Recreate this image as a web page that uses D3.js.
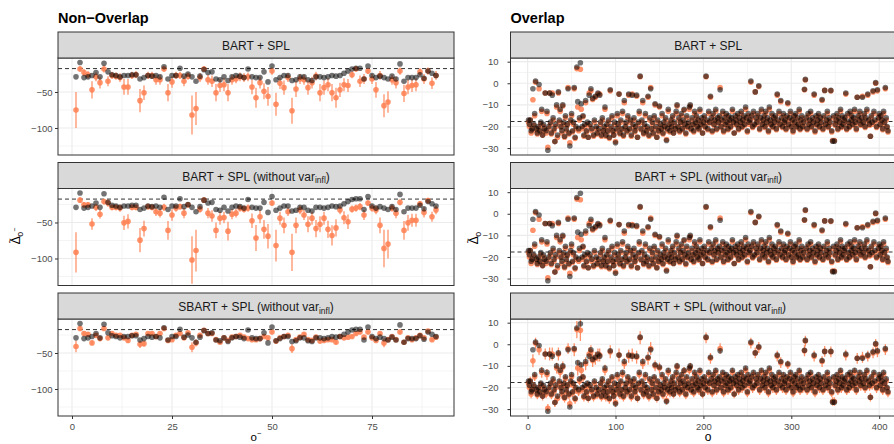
<!DOCTYPE html>
<html>
<head>
<meta charset="utf-8">
<script src="https://cdn.jsdelivr.net/npm/d3@7"></script>
<style>
  body { margin: 0; background: #fff; }
  svg text { font-family: "Liberation Sans", Arial, Helvetica, sans-serif; }
</style>
</head>
<body>
<div id="chart"></div>
<script>
//All the data
var trueNonOverlap = -17.5;
var trueOverlap = -17.7;

// Non-Overlap, o = 1..91 : reference estimate (grey), same in every panel
var nonGrey = [-29,-9,-30,-29,-27,-23,-29,-10,-22,-26,
  -27,-29,-27,-27,-26,-26,-32,-30,-27,-28,
  -27,-29,-15,-32,-27,-27,-17,-28,-25,-29,
  -35,-28,-19,-23,-22,-32,-33,-29,-34,-29,
  -27,-28,-30,-18,-29,-30,-30,-22,-36,-14,
  -33,-30,-27,-27,-34,-33,-29,-29,-33,-34,
  -29,-29,-30,-29,-27,-28,-27,-24,-21,-18,
  -17,-17,-32,-14,-27,-30,-28,-30,-32,-28,
  -32,-11,-35,-30,-30,-30,-26,-31,-21,-24,-27];

// BART + SPL
var nonBart = [-75,-18,-23,-26,-47,-29,-37,-18,-35,-27,
  -28,-30,-43,-43,-27,-26,-62,-51,-27,-27,
  -33,-33,-18,-51,-36,-27,-27,-35,-28,-82,
  -73,-30,-18,-33,-35,-51,-41,-40,-51,-33,
  -32,-29,-30,-29,-43,-58,-37,-49,-56,-21,
  -67,-38,-44,-30,-76,-46,-32,-33,-44,-37,
  -28,-51,-44,-40,-51,-58,-47,-40,-41,-26,
  -18,-35,-32,-21,-32,-47,-27,-69,-64,-33,
  -37,-21,-52,-43,-41,-40,-22,-32,-21,-38,-27];
var nonBartErr = [25,4,5,5,12,6,8,5,7,5,
  5,6,11,11,5,5,16,10,5,5,
  7,7,4,12,8,5,5,7,5,27,
  23,6,4,7,8,12,9,9,12,7,
  6,6,6,6,10,14,8,11,13,5,
  16,8,10,6,18,11,7,7,10,8,
  6,12,10,9,12,14,10,9,9,5,
  4,8,7,4,7,11,6,16,15,7,
  8,5,12,10,9,9,5,7,5,8,6];

// BART + SPL (without var_infl)
var nonBartNoInfl = [-91.5,-19,-25.5,-25.5,-52,-29,-38.5,-21,-23,-29,
  -29,-30,-50.5,-48.5,-29,-29,-74.5,-58.5,-28,-29,
  -35,-37,-29,-61,-39.5,-30,-28,-37,-25.5,-102,
  -89,-31.5,-19,-37,-41,-61,-44,-43,-62,-38.5,
  -37,-30,-31.5,-30,-47.5,-71.5,-42,-59.5,-69,-23,
  -82,-44,-54,-35,-91.5,-54,-32.5,-39.5,-52.5,-44,
  -58.5,-52.5,-44,-59.5,-68,-57.5,-32.5,-43.5,-49,-31.5,
  -30,-28,-39.5,-23,-30,-32.5,-54,-86,-80,-30,
  -37,-22,-61,-50.5,-47,-47,-24,-36,-19.5,-42,-32.5];
var nonBartNoInflErr = [28,4,4,4,8,5,6,4,5,4,
  4,5,10,10,4,4,17,11,4,4,
  6,6,5,13,8,5,4,7,4,33,
  29,5,4,7,8,11,9,8,13,7,
  6,5,5,5,10,18,9,13,17,4,
  22,9,11,6,26,11,6,7,11,9,
  12,11,9,12,14,12,6,9,10,5,
  5,5,7,4,5,6,11,26,20,5,
  7,4,13,11,9,9,4,7,4,7,6];

// SBART + SPL (without var_infl)
var nonSbart = [-41,-16,-23,-24,-36,-25.5,-30,-16,-29,-23,
  -25.5,-25.5,-29,-32.5,-25.5,-24,-38,-37,-23,-23,
  -27,-23,-16,-32.5,-31.5,-25.5,-23,-29,-22,-42,
  -36,-25.5,-18.5,-23,-23,-31.5,-35,-29,-32.5,-28,
  -27,-25.5,-28,-30,-31.5,-31.5,-30,-27,-29,-21,
  -33.5,-29,-27,-25.5,-44,-31.5,-28,-24,-31.5,-32.5,
  -28,-33.5,-32.5,-31.5,-31.5,-35,-27,-29,-28,-27,
  -23,-21,-28,-21,-29,-32.5,-23,-36,-31.5,-27,
  -31.5,-21,-35,-29,-31.5,-29,-25.5,-29,-19.5,-31.5,-28];
var nonSbartErr = [8,3,3,3,3,3,3,3,2,2,
  2,2,2,3,2,2,5,4,2,2,
  2,2,2,2,2,2,2,2,2,7,
  5,2,2,2,2,2,3,2,2,2,
  2,2,2,2,2,2,2,2,2,2,
  4,2,2,2,6,2,2,2,2,2,
  2,2,2,2,2,3,2,2,2,2,
  2,2,2,2,2,2,2,6,3,2,
  2,2,3,2,2,2,2,2,2,2,2];

// Overlap, o = 1..410 : reference estimate (grey)
var overGrey = [-17,-19,-17,-22,-21,-2.5,-19,-14,1,-21,
  -23,-20,-0.6,-22,-18,-12,-24,-19,-21,-4.5,
  -22,-13,-31,-20,-4.5,-18,-23,-5.5,-16,-21,
  -27,-19,-10,-24,-4,-17,-12,-20,-22,-10,
  -18,-24.5,-15,-21,-19,-2.5,-23,-29,-17,-14,
  -22,-18,-2,-25,-20,7.5,-8.5,-21,-16,9.5,
  -9.5,-20,-15,-24,-19,-8,-22,-18,-25,-5.5,
  -19,-2.5,-21,-7,-24,-17,-6,-20,-23,-4.5,
  -21,-5.5,-18,-24,-16,-22,-20,-11,-24,-19,
  -22,-17,-25,-3,-20,-15,-22,-24,-18,-27.5,
  -21,-14,-19,-5,-23,-17,-21,-13,-24,-8,
  -20,-18,-22,-15,-5,-21,-17,-24,-5.5,-19,
  -16,-22,-20,-5.5,-25,-18,-13,3.3,-21,-17,
  -8,-23,-19,-14,-22,-20,-6,-24,-16,-2.5,
  -21,-18,-23,-15,-9.5,-20,-25,-17,-22,-10.5,
  -19,-21,-14,-23,-18,-20,-16,-26.5,-21,-12,
  -19,-22,-17,-20,-15,-23,-18,-21,-13,-10,
  -20,-16,-22,-18,-14,-21,-17,-12,-19,-23,
  -15,-20,-18,-11,-10,-21,-16,-19,-22,-13,
  -18,-15,-20,-17,-21,-12,-19,-16,-23,-18,
  -15,-20,3.3,-17,-21,-13,-18,-6,-16,-22,
  -14,-19,-17,-12,-21,-16,-18,-15,-3,-20,
  -17,-13,-22,-16,-19,-14,-18,-21,-15,-17,
  -20,-16,-12,-18,-23,-15,-17,-19,-14,-21,
  -16,-18,-13,-20,-17,-15,-19,-11,-16,-22,
  -14,-18,-17,1,-15,-20,-13,-19,-4,-16,
  -18,-14,-1.2,-21,-16,-12,-19,-17,-15,-20,
  -13,-18,-16,-22,-11,-17,-19,-14,-20,-16,
  -18,-15,-21,-5,-17,-13,-19,-8,-16,-20,
  -14,-18,-17,-21,-15,-9,-19,-16,-13,-20,
  -17,-22,-15,-18,-14,-20,-16,-19,-12,-21,
  -17,-15,-20,-18,-2.8,1.8,-16,-21,-14,-19,
  -17,-13,-20,-16,-18,-5,-22,-15,-19,-17,
  -14,-20,-16,-18,-7.5,-21,-15,-3.3,-19,-17,
  -13,-20,-16,-18,-3.3,-22,-26.8,-15,-26.8,-19,
  -17,-14,-21,-16,-18,-12,-20,-15,-19,-17,
  -16,-4.5,-21,-14,-18,-20,-13,-17,-15,-19,
  -16,-12,-18,-21,-6.5,-15,-17,-13,-19,-16,
  -6.5,-18,-14,-20,-16,-12,-5,-17,-19,-24.5,
  -15,-18,-3.5,-13,-17,0.3,-20,-3,-16,-14,
  -19,-15,-17,-21,-13,-18,-2,-16,-20,-22];

// Overlap : method estimate (orange), shared by the three panels
var overOrange = [-18,-20,-17,-23,-21.5,-7.6,-19.5,-15,0.5,-22,
  -23.5,-21,-2.5,-22.5,-19,-13,-24,-20,-22,-4.5,
  -23,-14,-29.6,-21,-4.5,-19,-23.5,-4.5,-17,-22,
  -27,-20,-11,-25,-4.5,-18,-13,-20.5,-23,-10.5,
  -19,-25,-16,-22,-19.5,-2,-23.5,-27.5,-18,-15,
  -22.5,-19,-2.5,-25.5,-21,6.8,-11,-22,-17,6.5,
  -12,-21,-15.5,-24.5,-20,-9,-22.5,-19,-25,-4.5,
  -20,-3.5,-22,-7.5,-24.5,-18,-6.5,-21,-23.5,-5,
  -22,-5,-19,-24.5,-17,-22.5,-21,-12,-24.5,-20,
  -22.5,-18,-25.5,-3.5,-21,-16,-22.5,-24,-19,-27,
  -22,-15,-20,-5,-23.5,-18,-21.5,-14,-24.5,-9,
  -21,-19,-22.5,-16,-5.5,-21.5,-18,-24.5,-5,-20,
  -17,-22.5,-21,-6,-25,-19,-14,3,-21.5,-18,
  -9,-23.5,-20,-15,-22.5,-21,-6.5,-24.5,-17,-2,
  -21.5,-19,-23.5,-16,-10,-21,-25,-18,-22.5,-11,
  -20,-21.5,-15,-23.5,-19,-20.5,-17,-26,-22,-13,
  -19.5,-22.5,-18,-20.5,-16,-23,-19,-21.5,-14,-10.5,
  -20.5,-17,-22.5,-19,-15,-21.5,-18,-12.5,-20,-23.5,
  -16,-20.5,-19,-12,-10.5,-21.5,-17,-19.5,-22.5,-14,
  -19,-16,-20.5,-18,-21.5,-13,-19.5,-17,-23,-19,
  -16,-20.5,3,-18,-21.5,-14,-18.5,-6.5,-17,-22.5,
  -15,-19.5,-18,-13,-21.5,-17,-18.5,-16,-2,-20.5,
  -18,-14,-22.5,-17,-19.5,-15,-19,-21.5,-16,-18,
  -20.5,-17,-13,-19,-23,-16,-18,-19.5,-15,-21.5,
  -17,-19,-14,-20.5,-18,-16,-19.5,-12,-17,-22.5,
  -15,-19,-18,0.5,-16,-20.5,-14,-19.5,-4,-17,
  -19,-15,-1.5,-21.5,-17,-13,-19.5,-18,-16,-20.5,
  -14,-19,-17,-22.5,-12,-18,-19.5,-15,-20.5,-17,
  -19,-16,-21.5,-5.5,-18,-14,-19.5,-8.5,-17,-20.5,
  -15,-19,-18,-21.5,-16,-9.5,-19.5,-17,-14,-20.5,
  -18,-22.5,-16,-19,-15,-20.5,-17,-19.5,-13,-21.5,
  -18,-16,-20.5,-19,-3,1.5,-17,-21.5,-15,-19.5,
  -18,-14,-20.5,-17,-19,-5.5,-22.5,-16,-19.5,-18,
  -15,-20.5,-17,-19,-8,-21.5,-16,-3.3,-19.5,-18,
  -14,-20.5,-17,-19,-3.5,-22.5,-26.5,-16,-26.5,-19.5,
  -18,-15,-21.5,-17,-19,-13,-20.5,-16,-19.5,-18,
  -17,-5,-21.5,-15,-19,-20.5,-14,-18,-16,-19.5,
  -17,-13,-19,-21.5,-6.5,-16,-18,-14,-19.5,-17,
  -6,-19,-15,-20.5,-17,-13,-5.5,-18,-19.5,-24.5,
  -16,-19,-4,-14,-18,0,-20.5,-3.5,-17,-15,
  -19.5,-16,-18,-21.5,-14,-19,-2.5,-17,-20.5,-22.5];

// Overlap SBART interval half-widths (the other two are hidden under the points)
var overSbartErr = [2,2,2,2,2,3,2,2,2.5,2,
  2,2,2.5,2,2,2.5,2,2,2,2.5,
  2,2.5,2,2,3,2,2,3,2,2,
  2,2,2.5,2,3,2,2.5,2,2,2.5,
  2,2,2,2,2,2.5,2,2,2,2,
  2,2,3,2,2,4,3.5,2,2,5,
  3.5,2,2,2,2,3,2,2,2,3,
  2,3,2,3,2,2,3,2,2,3,
  2,3,2,2,2,2,2,2.5,2,2,
  2,2,2,3,2,2,2,2,2,2,
  2,2,2,3,2,2,2,2,2,2.5,
  2,2,2,2,3,2,2,2,3,2,
  2,2,2,3,2,2,2,3,2,2,
  2.5,2,2,2,2,2,3,2,2,3,
  2,2,2,2,2.5,2,2,2,2,2.5,
  2,2,2,2,2,2,2,2,2,2,
  2,2,2,2,2,2,2,2,2,2,
  2,2,2,2,2,2,2,2,2,2,
  2,2,2,2,2,2,2,2,2,2,
  2,2,2,2,2,2,2,2,2,2,
  2,2,2.5,2,2,2,2,2.5,2,2,
  2,2,2,2,2,2,2,2,2.5,2,
  2,2,2,2,2,2,2,2,2,2,
  2,2,2,2,2,2,2,2,2,2,
  2,2,2,2,2,2,2,2,2,2,
  2,2,2,2.5,2,2,2,2,2.5,2,
  2,2,2.5,2,2,2,2,2,2,2,
  2,2,2,2,2,2,2,2,2,2,
  2,2,2,2.5,2,2,2,2.5,2,2,
  2,2,2,2,2,2,2,2,2,2,
  2,2,2,2,2,2,2,2,2,2,
  2,2,2,2,2.5,2.5,2,2,2,2,
  2,2,2,2,2,2.5,2,2,2,2,
  2,2,2,2,2.5,2,2,2.5,2,2,
  2,2,2,2,2.5,2,2,2,2,2,
  2,2,2,2,2,2,2,2,2,2,
  2,2.5,2,2,2,2,2,2,2,2,
  2,2,2,2,2.5,2,2,2,2,2,
  2.5,2,2,2,2,2,2.5,2,2,2,
  2,2,2.5,2,2,2.5,2,2.5,2,2,
  2,2,2,2,2,2,2.5,2,2,2];

// Facet labels, titles and ticks
var colTitles = ["Non\u2212Overlap", "Overlap"];
var stripLabels = [
  { main: "BART + SPL", sub: null },
  { main: "BART + SPL (without var", sub: "infl", tail: ")" },
  { main: "SBART + SPL (without var", sub: "infl", tail: ")" }
];
var nonXTicks = [0, 25, 50, 75], nonXMinor = [12.5, 37.5, 62.5, 87.5];
var nonYTicks = [-100, -50], nonYMinor = [-125, -75, -25];
var overXTicks = [0, 100, 200, 300, 400], overXMinor = [50, 150, 250, 350];
var overYTicks = [-30, -20, -10, 0, 10], overYMinor = [-25, -15, -5, 5];

/* ------------------------------------ layout ------------------------------------ */
var w = 894, h = 444;
var stripH = 26, plotH = 97;
var rowTop = [32, 162.5, 293];
var orange = "#FF7F50";

var cols = [
  { x0: 58, x1: 454, xDomain: [-3.5, 95.5], yDomain: [-137.5, -2.8],
    xTicks: nonXTicks, xMinor: nonXMinor, yTicks: nonYTicks, yMinor: nonYMinor,
    tickPad: 2.5, trueVal: trueNonOverlap, grey: nonGrey,
    panels: [[nonBart, nonBartErr], [nonBartNoInfl, nonBartNoInflErr], [nonSbart, nonSbartErr]] },
  { x0: 510.5, x1: 906, xDomain: [-19.5, 430.5], yDomain: [-33.2, 11.7],
    xTicks: overXTicks, xMinor: overXMinor, yTicks: overYTicks, yMinor: overYMinor,
    tickPad: 9, trueVal: trueOverlap, grey: overGrey,
    panels: [[overOrange, null], [overOrange, null], [overOrange, overSbartErr]] }
];

var svg = d3.select("#chart")
  .append("svg")
    .attr("width", w)
    .attr("height", h)
    .style("display", "block");

svg.append("rect").attr("width", w).attr("height", h).attr("fill", "#fff");

cols.forEach(function(col, ci) {
  // column title
  svg.append("text")
    .attr("x", col.x0)
    .attr("y", 22.5)
    .style("font-size", "14.5px")
    .style("font-weight", "bold")
    .attr("fill", "#000")
    .text(colTitles[ci]);

  var x = d3.scaleLinear().domain(col.xDomain).range([col.x0, col.x1]);

  col.panels.forEach(function(p, ri) {
    var top = rowTop[ri];
    var pTop = top + stripH, pBot = pTop + plotH;
    var y = d3.scaleLinear().domain(col.yDomain).range([pBot, pTop]);
    var est = p[0], err = p[1];
    var idx = d3.range(1, est.length + 1);

    var clipId = "clip" + ci + ri;
    svg.append("clipPath").attr("id", clipId)
      .append("rect")
        .attr("x", col.x0).attr("y", pTop)
        .attr("width", col.x1 - col.x0).attr("height", plotH);

    var g = svg.append("g").attr("clip-path", "url(#" + clipId + ")");

    //Grid
    g.selectAll(".minx").data(col.xMinor).enter().append("line")
      .attr("x1", function(d) { return x(d); }).attr("x2", function(d) { return x(d); })
      .attr("y1", pTop).attr("y2", pBot)
      .attr("stroke", "#EBEBEB").attr("stroke-width", 0.55);
    g.selectAll(".miny").data(col.yMinor).enter().append("line")
      .attr("y1", function(d) { return y(d); }).attr("y2", function(d) { return y(d); })
      .attr("x1", col.x0).attr("x2", col.x1)
      .attr("stroke", "#EBEBEB").attr("stroke-width", 0.55);
    g.selectAll(".majx").data(col.xTicks).enter().append("line")
      .attr("x1", function(d) { return x(d); }).attr("x2", function(d) { return x(d); })
      .attr("y1", pTop).attr("y2", pBot)
      .attr("stroke", "#EBEBEB").attr("stroke-width", 1.1);
    g.selectAll(".majy").data(col.yTicks).enter().append("line")
      .attr("y1", function(d) { return y(d); }).attr("y2", function(d) { return y(d); })
      .attr("x1", col.x0).attr("x2", col.x1)
      .attr("stroke", "#EBEBEB").attr("stroke-width", 1.1);

    //Dashed true value
    g.append("line")
      .attr("x1", col.x0).attr("x2", col.x1)
      .attr("y1", y(col.trueVal)).attr("y2", y(col.trueVal))
      .attr("stroke", "#333").attr("stroke-width", 1)
      .attr("stroke-dasharray", "4,3");

    //Error bars
    if (err) {
      g.selectAll(".err").data(idx).enter().append("line")
        .attr("x1", function(d) { return x(d); })
        .attr("x2", function(d) { return x(d); })
        .attr("y1", function(d) { return y(est[d - 1] - err[d - 1]); })
        .attr("y2", function(d) { return y(est[d - 1] + err[d - 1]); })
        .attr("stroke", orange).attr("stroke-width", 1.3)
        .attr("stroke-opacity", 0.85);
    }

    //Orange points
    g.selectAll(".pt").data(idx).enter().append("circle")
      .attr("cx", function(d) { return x(d); })
      .attr("cy", function(d) { return y(est[d - 1]); })
      .attr("r", 2.8)
      .attr("fill", orange).attr("fill-opacity", 0.85);

    //Grey points
    g.selectAll(".gpt").data(idx).enter().append("circle")
      .attr("cx", function(d) { return x(d); })
      .attr("cy", function(d) { return y(col.grey[d - 1]); })
      .attr("r", 2.8)
      .attr("fill", "#000").attr("fill-opacity", 0.55);

    //Panel border
    svg.append("rect")
      .attr("x", col.x0).attr("y", pTop)
      .attr("width", col.x1 - col.x0).attr("height", plotH)
      .attr("fill", "none").attr("stroke", "#333").attr("stroke-width", 1);

    //Strip
    svg.append("rect")
      .attr("x", col.x0).attr("y", top)
      .attr("width", col.x1 - col.x0).attr("height", stripH)
      .attr("fill", "#D9D9D9").attr("stroke", "#333").attr("stroke-width", 1);
    var lab = stripLabels[ri];
    var st = svg.append("text")
      .attr("x", (col.x0 + col.x1) / 2)
      .attr("y", top + 18)
      .attr("text-anchor", "middle")
      .attr("fill", "#1A1A1A")
      .style("font-size", "12px");
    st.append("tspan").text(lab.main);
    if (lab.sub) {
      st.append("tspan").attr("dy", 2.5).style("font-size", "8.5px").text(lab.sub);
      st.append("tspan").attr("dy", -2.5).text(lab.tail);
    }

    // Y axis
    var ya = svg.append("g")
      .attr("transform", "translate(" + col.x0 + ",0)")
      .call(d3.axisLeft(y).tickValues(col.yTicks).tickSize(3).tickPadding(col.tickPad));
    ya.select(".domain").remove();
    ya.selectAll("line").attr("stroke", "#333");
    ya.selectAll("text").attr("fill", "#4D4D4D").style("font-size", "9.5px")
      .style("font-family", "Liberation Sans, Arial, sans-serif");

    // X axis on the bottom row
    if (ri === 2) {
      var xa = svg.append("g")
        .attr("transform", "translate(0," + pBot + ")")
        .call(d3.axisBottom(x).tickValues(col.xTicks).tickSize(3).tickPadding(4));
      xa.select(".domain").remove();
      xa.selectAll("line").attr("stroke", "#333");
      xa.selectAll("text").attr("fill", "#4D4D4D").style("font-size", "9.5px")
        .style("font-family", "Liberation Sans, Arial, sans-serif");
    }
  });
});

// Axis titles: delta with a small tilde set above it
function deltaTitle(tx, ty, withMinus) {
  var t = svg.append("text")
    .attr("transform", "translate(" + tx + "," + ty + ") rotate(-90)")
    .attr("text-anchor", "middle").attr("fill", "#000").style("font-size", "12px");
  t.append("tspan").text("\u0394");
  t.append("tspan").attr("dx", -7.2).attr("dy", -7.5).style("font-size", "9px").text("~");
  t.append("tspan").attr("dx", 1.3).attr("dy", 10.5).style("font-size", "9px").text("o");
  if (withMinus) {
    t.append("tspan").attr("dy", -6).style("font-size", "7px").text("\u2212");
  }
}
deltaTitle(20, 236, true);
deltaTitle(478, 238, false);

var xt1 = svg.append("text")
  .attr("x", 256).attr("y", 441)
  .attr("text-anchor", "middle").attr("fill", "#000").style("font-size", "11.5px");
xt1.append("tspan").text("o");
xt1.append("tspan").attr("dy", -5).style("font-size", "7.5px").text("\u2212");

svg.append("text")
  .attr("x", 708).attr("y", 441)
  .attr("text-anchor", "middle").attr("fill", "#000").style("font-size", "12px")
  .text("o");
</script>
</body>
</html>
